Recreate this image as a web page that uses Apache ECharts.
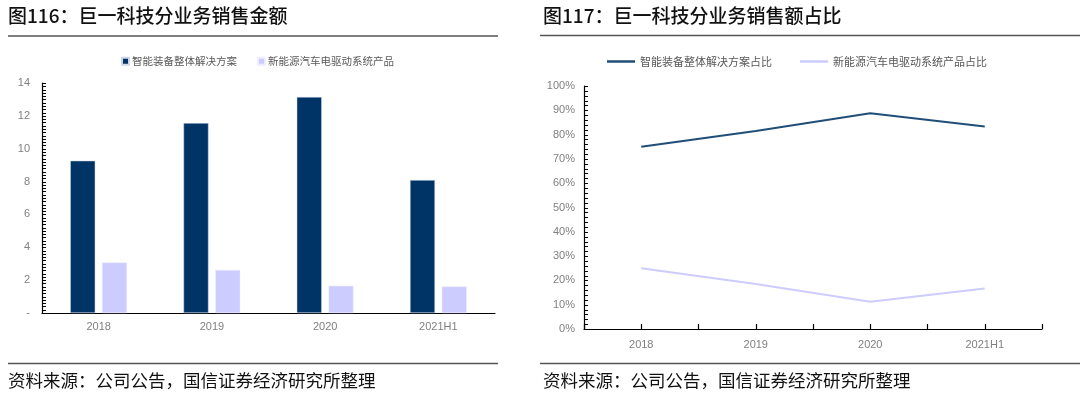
<!DOCTYPE html>
<html>
<head>
<meta charset="utf-8">
<script src="https://cdn.jsdelivr.net/npm/echarts@6/dist/echarts.min.js"></script>
<style>
html,body{margin:0;padding:0;background:#fff;}
#c{width:1080px;height:403px;}
</style>
</head>
<body>
<div id="c"></div>
<script>
const categories = ['2018', '2019', '2020', '2021H1'];
const equipSales = [9.27, 11.56, 13.15, 8.09];
const evSales = [3.08, 2.62, 1.66, 1.62];
const equipShare = [0.750, 0.815, 0.888, 0.833];
const evShare = [0.250, 0.185, 0.112, 0.167];
const leftTitle = '图116：巨一科技分业务销售金额';
const rightTitle = '图117：巨一科技分业务销售额占比';
const sourceText = '资料来源：公司公告，国信证券经济研究所整理';
const s1 = '智能装备整体解决方案';
const s2 = '新能源汽车电驱动系统产品';
const s3 = '智能装备整体解决方案占比';
const s4 = '新能源汽车电驱动系统产品占比';

const CJK = '"Noto Sans CJK SC", "Noto Sans", sans-serif';
const LAT = 'Arial, "Liberation Sans", sans-serif';
const labelColor = '#808080';

const G0 = {left: 42, right: 585, top: 83, bottom: 90};
const G1 = {left: 584, right: 38, top: 86, bottom: 74};

const baseGraphic = [
  {type: 'text', left: 8, top: 6, style: {text: leftTitle, font: '500 19px ' + CJK, fill: '#111'}},
  {type: 'text', left: 543, top: 6, style: {text: rightTitle, font: '500 19px ' + CJK, fill: '#111'}},
  {type: 'line', shape: {x1: 8, y1: 36, x2: 498, y2: 36}, style: {stroke: '#555', lineWidth: 1.5}},
  {type: 'line', shape: {x1: 540, y1: 35.5, x2: 1080, y2: 35.5}, style: {stroke: '#555', lineWidth: 1.5}},
  {type: 'line', shape: {x1: 8, y1: 363.5, x2: 498, y2: 363.5}, style: {stroke: '#555', lineWidth: 1.5}},
  {type: 'line', shape: {x1: 540, y1: 363.5, x2: 1080, y2: 363.5}, style: {stroke: '#555', lineWidth: 1.5}},
  {type: 'text', left: 8, top: 372, style: {text: sourceText, font: '17.5px ' + CJK, fill: '#111'}},
  {type: 'text', left: 543, top: 372, style: {text: sourceText, font: '17.5px ' + CJK, fill: '#111'}}
];

const chart = echarts.init(document.getElementById('c'), null, {renderer: 'canvas'});
chart.setOption({
  animation: false,
  backgroundColor: '#fff',
  textStyle: {fontFamily: LAT},
  graphic: baseGraphic,
  legend: [
    {
      data: [s1, s2], left: 116, top: 51, itemWidth: 7, itemHeight: 7, itemGap: 20,
      icon: 'rect',
      textStyle: {fontFamily: CJK, fontSize: 10.5, color: '#595959', padding: [0, 0, 0, -2]}
    },
    {
      data: [s3, s4], left: 602, top: 51, itemWidth: 28, itemHeight: 2.5, itemGap: 28,
      icon: 'rect',
      textStyle: {fontFamily: CJK, fontSize: 11, color: '#595959'}
    }
  ],
  grid: [
    Object.assign({containLabel: false}, G0),
    Object.assign({containLabel: false}, G1)
  ],
  xAxis: [
    {
      type: 'category', gridIndex: 0, data: categories, boundaryGap: true,
      axisLine: {lineStyle: {color: '#000', width: 1.2}},
      axisTick: {inside: true, length: 5, lineStyle: {color: '#000', width: 1.2}},
      axisLabel: {color: labelColor, fontSize: 11, margin: 8}
    },
    {
      type: 'category', gridIndex: 1, data: categories, boundaryGap: true,
      axisLine: {lineStyle: {color: '#000', width: 1.2}},
      axisTick: {show: false},
      axisLabel: {color: labelColor, fontSize: 11, margin: 10}
    },
    {
      type: 'value', gridIndex: 1, min: 0, max: 8, interval: 1, position: 'bottom',
      axisLine: {show: false},
      axisTick: {show: true, inside: true, length: 5, lineStyle: {color: '#000', width: 1.2}},
      axisLabel: {show: false}, splitLine: {show: false}
    }
  ],
  yAxis: [
    {
      type: 'value', gridIndex: 0, min: 0, max: 14, interval: 2,
      axisLine: {show: true, lineStyle: {color: '#000', width: 1.2}},
      axisTick: {show: false},
      splitLine: {show: false},
      axisLabel: {color: labelColor, fontSize: 11, margin: 12, formatter: v => v === 0 ? '-' : String(v)}
    },
    {
      type: 'value', gridIndex: 1, min: 0, max: 1, interval: 0.1,
      axisLine: {show: true, lineStyle: {color: '#000', width: 1.2}},
      axisTick: {show: false},
      splitLine: {show: false},
      axisLabel: {color: labelColor, fontSize: 11, margin: 9, formatter: v => Math.round(v * 100) + '%'}
    }
  ],
  series: [
    {
      name: s1, type: 'bar', xAxisIndex: 0, yAxisIndex: 0, data: equipSales,
      barWidth: 25, barGap: '27%',
      itemStyle: {color: '#003366', borderColor: '#d0d8e8', borderWidth: 0.5}
    },
    {
      name: s2, type: 'bar', xAxisIndex: 0, yAxisIndex: 0, data: evSales,
      barWidth: 25, barGap: '27%',
      itemStyle: {color: '#CCCCFF', borderColor: '#eeeeff', borderWidth: 0.5}
    },
    {
      name: s3, type: 'line', xAxisIndex: 1, yAxisIndex: 1, data: equipShare,
      symbol: 'none', lineStyle: {color: '#1F4E79', width: 2}, itemStyle: {color: '#1F4E79'}
    },
    {
      name: s4, type: 'line', xAxisIndex: 1, yAxisIndex: 1, data: evShare,
      symbol: 'none', lineStyle: {color: '#CCCCFF', width: 2}, itemStyle: {color: '#CCCCFF'}
    }
  ]
});

// inward minor tick marks on the y axes, positioned through the axis scales
function yTicks(axisIndex, x0, maxV, step) {
  const out = [];
  const n = Math.round(maxV / step);
  for (let i = 0; i <= n; i++) {
    const py = chart.convertToPixel({yAxisIndex: axisIndex}, i * step);
    if (py == null || isNaN(py)) continue;
    const y = Math.round(py) + 0.5;
    out.push({type: 'line', z: 100, silent: true,
      shape: {x1: x0, y1: y, x2: x0 + 4, y2: y},
      style: {stroke: '#000', lineWidth: 1}});
  }
  return out;
}
const tickGraphic = yTicks(0, G0.left, 14, 0.2).concat(yTicks(1, G1.left, 1, 0.02));
chart.setOption({graphic: baseGraphic.concat(tickGraphic)});
</script>
</body>
</html>
